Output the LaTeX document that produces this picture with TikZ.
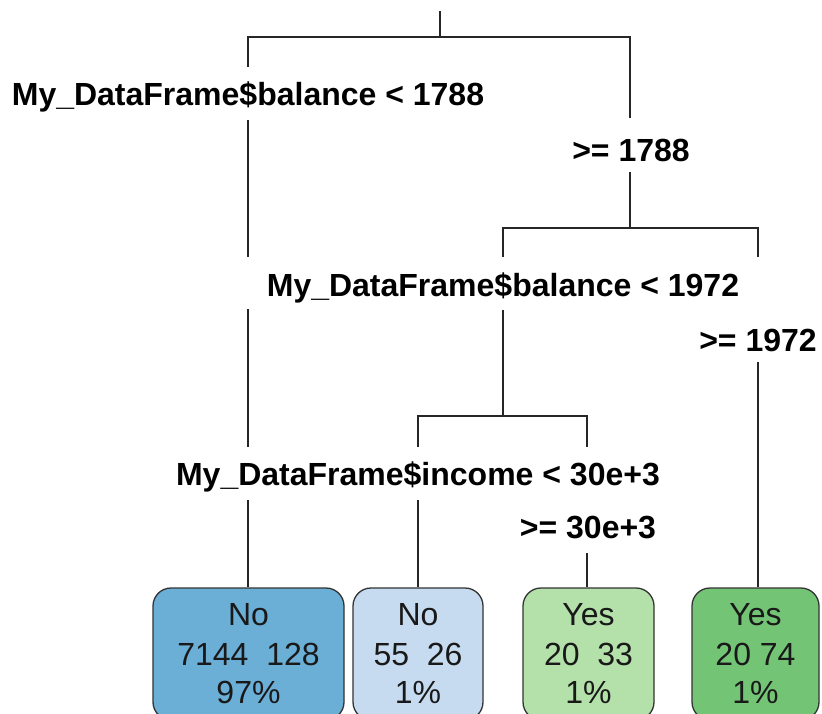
\documentclass[tikz,border=0pt]{standalone}
\usepackage{fontspec}
\setmainfont{Liberation Sans}
\usetikzlibrary{calc}
\definecolor{leafblueA}{HTML}{6BAED6}
\definecolor{leafblueB}{HTML}{C6DBEF}
\definecolor{leafgreenA}{HTML}{B4E0AA}
\definecolor{leafgreenB}{HTML}{74C476}
\tikzset{
  branch/.style={line width=1.6pt, draw=black!85},
  splitlabel/.style={anchor=base, inner sep=0pt, font=\fontsize{32}{38}\selectfont\bfseries},
  leafbox/.style={draw=black!80, line width=1.3pt, rounded corners=18pt, inner sep=0pt},
  leaftext/.style={anchor=base, inner sep=0pt, text=black!90, font=\fontsize{32}{38}\selectfont},
}
\begin{document}
\begin{tikzpicture}[x=1pt, y=-1pt]
\useasboundingbox (0,0) rectangle (822,714);
\clip (0,0) rectangle (822,714);

% split labels
\node[splitlabel] (s1l) at (248,106) {My\_DataFrame\$balance < 1788};
\node[splitlabel] (s1r) at (631,162) {>= 1788};
\node[splitlabel] (s2l) at (503,296) {My\_DataFrame\$balance < 1972};
\node[splitlabel] (s2r) at (758,351) {>= 1972};
\node[splitlabel] (s3l) at (418,485) {My\_DataFrame\$income < 30e+3};
\node[splitlabel] (s3r) at (588,538) {>= 30e+3};

% leaves
\node[leafbox, fill=leafblueA, minimum width=191pt, minimum height=132pt] (n1) at (248.5,654) {};
\node[leafbox, fill=leafblueB, minimum width=130pt, minimum height=132pt] (n2) at (418,654) {};
\node[leafbox, fill=leafgreenA, minimum width=131pt, minimum height=132pt] (n3) at (588.5,654) {};
\node[leafbox, fill=leafgreenB, minimum width=127pt, minimum height=132pt] (n4) at (755.5,654) {};

\foreach \b/\x/\cls/\cnt/\pct in {n1/248.5/No/7144\ \ 128/97\%, n2/418/No/55\ \ 26/1\%, n3/588.5/Yes/20\ \ 33/1\%, n4/755.5/Yes/20 74/1\%}{
  \node[leaftext] (\b c) at (\x,625) {\cls};
  \node[leaftext] (\b n) at (\x,665) {\cnt};
  \node[leaftext] (\b p) at (\x,703) {\pct};
}

% branch points
\coordinate (top) at (440,11);
\coordinate (r0) at (440,37);
\coordinate (r1) at (630,228);
\coordinate (r2) at (503,416);

% root split
\draw[branch] (top) -- (r0);
\draw[branch] (248,67) |- (r0) -| (630,118);
\draw[branch] (248,120) -- (248,257);
\draw[branch] (248,309) -- (248,447);
\draw[branch] (248,500) -- (n1.north -| 248,0);
\draw[branch] (630,172) -- (r1);

% second split
\draw[branch] (503,257) |- (r1) -| (758,257);
\draw[branch] (503,310) -- (r2);
\draw[branch] (758,362) -- (n4.north -| 758,0);

% third split
\draw[branch] (418,447) |- (r2) -| (587,447);
\draw[branch] (418,500) -- (n2.north);
\draw[branch] (587,553) -- (n3.north -| 587,0);
\end{tikzpicture}
\end{document}
